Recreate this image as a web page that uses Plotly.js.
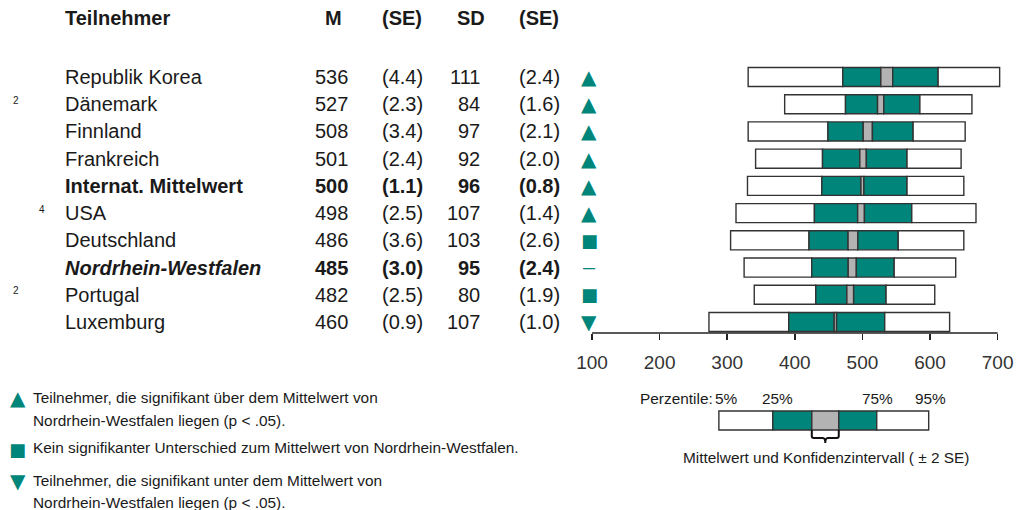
<!DOCTYPE html>
<html>
<head>
<meta charset="utf-8">
<script src="https://cdn.plot.ly/plotly-3.0.1.min.js"></script>
<style>html,body{margin:0;padding:0;background:#fff;}#chart{width:1022px;height:510px;}</style>
</head>
<body>
<div id="chart"></div>
<script>
// ---- Data ----
const teilnehmer = ["Republik Korea","Dänemark","Finnland","Frankreich","Internat. Mittelwert","USA","Deutschland","Nordrhein-Westfalen","Portugal","Luxemburg"];
const fussnote = ["","2","","","","4","","","2",""];
const mittelwert = [536,527,508,501,500,498,486,485,482,460];
const seM = [4.4,2.3,3.4,2.4,1.1,2.5,3.6,3.0,2.5,0.9];
const sd = [111,84,97,92,96,107,103,95,80,107];
const seSD = [2.4,1.6,2.1,2.0,0.8,1.4,2.6,2.4,1.9,1.0];
const signifikanz = ["up","up","up","up","up","up","same","ref","same","down"];
const p5  = [331,385,331,342,330,313,305,325,340,273];
const p25 = [471,475,449,441,440,429,421,425,431,391];
const p75 = [612,585,575,566,566,573,553,547,535,533];
const p95 = [703,662,652,646,650,668,650,638,607,629];
const achsenTicks = [100,200,300,400,500,600,700];

// ---- Styles ----
const TEAL = "#00857a";
const GRAY = "#b3b3b3";
const EDGE = "#333333";
const TXT = "#1a1a1a";
const FONT = "Liberation Sans, Arial, sans-serif";

// plot area geometry (pixels): x range [100,705] so that 700 sits at 998 px
const XMIN = 100, XMAX = 705;
const L = 592, R = 592 + (XMAX - XMIN) * (406 / 600), T = 0, B = 333, W = 1022, H = 510;
const px = x => (x - L) / (R - L);
const py = y => (B - y) / (B - T);

const idx = teilnehmer.map((_, i) => i);
const ciLo = mittelwert.map((m, i) => m - 2 * seM[i]);
const ciHi = mittelwert.map((m, i) => m + 2 * seM[i]);

function seg(base, end, color) {
  return {
    type: "bar", orientation: "h", y: idx,
    base: base, x: end.map((e, i) => e - base[i]),
    width: 0.7,
    marker: {color: color, line: {color: EDGE, width: 1.4}},
    hoverinfo: "skip", showlegend: false
  };
}
const traces = [
  seg(p5, p25, "#ffffff"),
  seg(p25, ciLo, TEAL),
  seg(ciLo, ciHi, GRAY),
  seg(ciHi, p75, TEAL),
  seg(p75, p95, "#ffffff")
];

const ann = [];
function txt(x, y, text, opts) {
  ann.push(Object.assign({
    xref: "paper", yref: "paper", x: px(x), y: py(y), text: text,
    showarrow: false, xanchor: "left", yanchor: "middle",
    font: {family: FONT, size: 20, color: TXT}
  }, opts || {}));
}
// header
const hdrY = 18;
txt(63, hdrY, "<b>Teilnehmer</b>");
txt(333, hdrY, "<b>M</b>", {xanchor: "center"});
txt(402, hdrY, "<b>(SE)</b>", {xanchor: "center"});
txt(471, hdrY, "<b>SD</b>", {xanchor: "center"});
txt(539, hdrY, "<b>(SE)</b>", {xanchor: "center"});

// rows
teilnehmer.forEach((name, i) => {
  const bold = (name === "Internat. Mittelwert" || name === "Nordrhein-Westfalen");
  const w = s => bold ? "<b>" + s + "</b>" : s;
  const nm = name === "Nordrhein-Westfalen" ? "<b><i>" + name + "</i></b>" : w(name);
  const base = {yref: "y", y: i};
  const f = {family: FONT, size: 20, color: TXT};
  ann.push(Object.assign({xref: "paper", x: px(63), text: nm, showarrow: false, xanchor: "left", yanchor: "middle", font: f}, base));
  ann.push(Object.assign({xref: "paper", x: px(350), text: w(String(mittelwert[i])), showarrow: false, xanchor: "right", yanchor: "middle", font: f}, base));
  ann.push(Object.assign({xref: "paper", x: px(402), text: w("(" + seM[i].toFixed(1) + ")"), showarrow: false, xanchor: "center", yanchor: "middle", font: f}, base));
  ann.push(Object.assign({xref: "paper", x: px(482), text: w(String(sd[i])), showarrow: false, xanchor: "right", yanchor: "middle", font: f}, base));
  ann.push(Object.assign({xref: "paper", x: px(539), text: w("(" + seSD[i].toFixed(1) + ")"), showarrow: false, xanchor: "center", yanchor: "middle", font: f}, base));
  const s = signifikanz[i];
  if (s === "ref") {
    ann.push(Object.assign({xref: "paper", x: px(589), text: "<b>—</b>", showarrow: false, xanchor: "center", yanchor: "middle", font: {family: FONT, size: 12, color: TEAL}}, base));
  } else {
    const sym = {up: "▲", down: "▼", same: "■"}[s];
    const sz = {up: 20, down: 20, same: 18}[s];
    ann.push(Object.assign({xref: "paper", x: px(589), text: sym, showarrow: false, xanchor: "center", yanchor: "middle", font: {family: "DejaVu Sans", size: sz, color: TEAL}}, base));
  }
  if (fussnote[i]) {
    ann.push({xref: "paper", yref: "y", y: i, yshift: 4, x: px(fussnote[i] === "4" ? 41 : 15), text: fussnote[i], showarrow: false, xanchor: "center", yanchor: "middle", font: {family: FONT, size: 10, color: TXT}});
  }
});

// bottom-left legend
const LS = 15.4;
txt(17, 398, "▲", {xanchor: "center", font: {family: "DejaVu Sans", size: 20, color: TEAL}});
txt(30, 397, "Teilnehmer, die signifikant über dem Mittelwert von", {font: {family: FONT, size: LS, color: TXT}});
txt(30, 420, "Nordrhein-Westfalen liegen (p < .05).", {font: {family: FONT, size: LS, color: TXT}});
txt(17, 449, "■", {xanchor: "center", font: {family: "DejaVu Sans", size: 18, color: TEAL}});
txt(30, 447, "Kein signifikanter Unterschied zum Mittelwert von Nordrhein-Westfalen.", {font: {family: FONT, size: LS, color: TXT}});
txt(17, 481, "▼", {xanchor: "center", font: {family: "DejaVu Sans", size: 20, color: TEAL}});
txt(30, 480, "Teilnehmer, die signifikant unter dem Mittelwert von", {font: {family: FONT, size: LS, color: TXT}});
txt(30, 502, "Nordrhein-Westfalen liegen (p < .05).", {font: {family: FONT, size: LS, color: TXT}});

// key (bottom-right)
const KS = 15.4;
txt(638, 398, "Perzentile:", {font: {family: FONT, size: KS, color: TXT}});
txt(727, 398, "5%", {xanchor: "center", font: {family: FONT, size: KS, color: TXT}});
txt(778, 398, "25%", {xanchor: "center", font: {family: FONT, size: KS, color: TXT}});
txt(878, 398, "75%", {xanchor: "center", font: {family: FONT, size: KS, color: TXT}});
txt(931, 398, "95%", {xanchor: "center", font: {family: FONT, size: KS, color: TXT}});
txt(826, 457, "Mittelwert und Konfidenzintervall ( ± 2 SE)", {xanchor: "center", font: {family: FONT, size: KS, color: TXT}});

const shapes = [];
// x-axis baseline from 100 to 700
shapes.push({type: "line", xref: "x", yref: "paper", x0: 100, x1: 700, y0: 0, y1: 0, line: {color: "#222", width: 1.5}});
function rect(x0, x1, color) {
  shapes.push({type: "rect", xref: "paper", yref: "paper", x0: px(x0), x1: px(x1), y0: py(430), y1: py(411),
    fillcolor: color, line: {color: EDGE, width: 1.4}});
}
rect(719, 773, "#ffffff");
rect(773, 812, TEAL);
rect(812, 839, GRAY);
rect(839, 877, TEAL);
rect(877, 929, "#ffffff");
function P(x, y) { return px(x) + "," + py(y); }
shapes.push({type: "path", xref: "paper", yref: "paper",
  path: "M" + P(812, 430) + " L" + P(812, 436) + " Q" + P(812, 438) + " " + P(814, 438) +
        " L" + P(823, 438) + " Q" + P(825.5, 438) + " " + P(825.5, 443) +
        " Q" + P(825.5, 438) + " " + P(828, 438) + " L" + P(837, 438) + " Q" + P(839, 438) + " " + P(839, 436) + " L" + P(839, 430),
  line: {color: "#111", width: 2}});

const layout = {
  width: W, height: H,
  margin: {l: L, r: W - R, t: T, b: H - B, pad: 0},
  paper_bgcolor: "#fff", plot_bgcolor: "rgba(0,0,0,0)",
  barmode: "overlay", showlegend: false,
  xaxis: {range: [XMIN, XMAX], tickvals: achsenTicks, ticks: "outside", ticklen: 6, tickwidth: 1.5, tickcolor: "#222",
    showline: false, showgrid: false, zeroline: false, ticklabelstandoff: 6,
    tickfont: {family: FONT, size: 19, color: "#333"}, fixedrange: true},
  yaxis: {range: [9 + 11 / 27.22, -77 / 27.22], visible: false, fixedrange: true},
  annotations: ann, shapes: shapes
};
Plotly.newPlot("chart", traces, layout, {displayModeBar: false, staticPlot: true});
</script>
</body>
</html>
